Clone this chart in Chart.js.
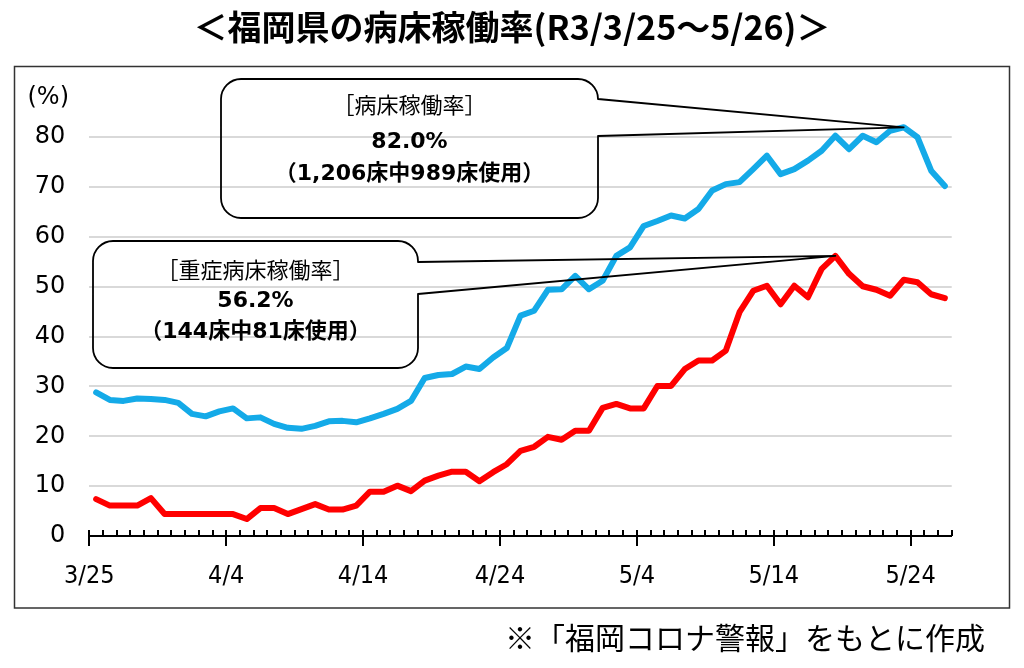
<!DOCTYPE html>
<html lang="ja">
<head>
<meta charset="utf-8">
<script src="https://cdn.jsdelivr.net/npm/chart.js@4.4.1/dist/chart.umd.min.js"></script>
<style>
  html, body { margin: 0; padding: 0; background: #fff; }
</style>
</head>
<body>
<canvas id="chart" width="1024" height="668"></canvas>
<script>
// 病床稼働率 3/25 - 5/26 (daily)
var dates = [
  '3/25','3/26','3/27','3/28','3/29','3/30','3/31',
  '4/1','4/2','4/3','4/4','4/5','4/6','4/7','4/8','4/9','4/10',
  '4/11','4/12','4/13','4/14','4/15','4/16','4/17','4/18','4/19','4/20',
  '4/21','4/22','4/23','4/24','4/25','4/26','4/27','4/28','4/29','4/30',
  '5/1','5/2','5/3','5/4','5/5','5/6','5/7','5/8','5/9','5/10',
  '5/11','5/12','5/13','5/14','5/15','5/16','5/17','5/18','5/19','5/20',
  '5/21','5/22','5/23','5/24','5/25','5/26'
];

// 病床稼働率 (blue)
var bedRate = [
  28.8, 27.3, 27.1, 27.6, 27.5, 27.3, 26.7, 24.5, 24.0, 25.0,
  25.6, 23.6, 23.8, 22.5, 21.7, 21.5, 22.1, 23.0, 23.1, 22.8,
  23.6, 24.5, 25.5, 27.1, 31.7, 32.3, 32.5, 34.0, 33.5, 35.8,
  37.7, 44.2, 45.2, 49.4, 49.5, 52.2, 49.5, 51.2, 56.2, 57.9,
  62.2, 63.2, 64.3, 63.7, 65.6, 69.3, 70.6, 71.0, 73.6, 76.3,
  72.6, 73.6, 75.3, 77.3, 80.3, 77.6, 80.3, 79.0, 81.3, 82.0,
  80.0, 73.3, 70.2
];

// 重症病床稼働率 (red)
var severeRate = [
  7.4, 6.1, 6.1, 6.1, 7.6, 4.4, 4.4, 4.4, 4.4, 4.4,
  4.4, 3.4, 5.6, 5.6, 4.4, 5.4, 6.4, 5.3, 5.3, 6.1,
  8.9, 8.9, 10.1, 9.0, 11.1, 12.1, 12.9, 12.9, 11.0, 12.8,
  14.4, 17.1, 17.9, 19.9, 19.3, 21.1, 21.1, 25.7, 26.5, 25.6,
  25.6, 30.1, 30.1, 33.5, 35.2, 35.2, 37.2, 44.9, 49.2, 50.2,
  46.5, 50.2, 47.9, 53.6, 56.2, 52.6, 50.1, 49.4, 48.2, 51.4,
  50.9, 48.5, 47.7
];

var xTickLabels = ['3/25', '4/4', '4/14', '4/24', '5/4', '5/14', '5/24'];
var yMax = 90;

var bedNote = '（1,206床中989床使用）';
var severeNote = '（144床中81床使用）';
var sourceNote = '※「福岡コロナ警報」をもとに作成';

function toPoints(arr) {
  return arr.map(function (v, i) { return { x: i, y: v }; });
}

var latinJp = '"DejaVu Sans", "Noto Sans CJK JP", sans-serif';
var jp = '"Noto Sans CJK JP", sans-serif';

function calloutPath(ctx, b, tip) {
  var r = b.r;
  ctx.beginPath();
  ctx.moveTo(b.x0 + r, b.y0);
  ctx.lineTo(b.x1 - r, b.y0);
  ctx.arcTo(b.x1, b.y0, b.x1, b.y0 + r, r);
  ctx.lineTo(b.x1, b.p0);
  ctx.lineTo(tip.x, tip.y);
  ctx.lineTo(b.x1, b.p1);
  ctx.lineTo(b.x1, b.y1 - r);
  ctx.arcTo(b.x1, b.y1, b.x1 - r, b.y1, r);
  ctx.lineTo(b.x0 + r, b.y1);
  ctx.arcTo(b.x0, b.y1, b.x0, b.y1 - r, r);
  ctx.lineTo(b.x0, b.y0 + r);
  ctx.arcTo(b.x0, b.y0, b.x0 + r, b.y0, r);
  ctx.closePath();
  ctx.stroke();
}

function peakOf(arr) {
  var idx = 0;
  arr.forEach(function (v, i) { if (v > arr[idx]) idx = i; });
  return idx;
}

var decor = {
  id: 'decor',
  beforeDraw: function (chart) {
    var ctx = chart.ctx;
    ctx.save();
    ctx.strokeStyle = '#333';
    ctx.lineWidth = 1.5;
    ctx.strokeRect(14.5, 66.5, 995, 541.5);
    ctx.restore();
  },
  afterDatasetsDraw: function (chart) {
    var ctx = chart.ctx;
    var xs = chart.scales.x, ys = chart.scales.y;
    var base = chart.chartArea.bottom;
    ctx.save();

    // tick marks: short ones every day, longer every 10 days
    ctx.strokeStyle = '#000';
    ctx.lineWidth = 2;
    xs.ticks.forEach(function (t, i) {
      var px = Math.round(xs.getPixelForValue(t.value));
      ctx.beginPath();
      ctx.moveTo(px, base - 6);
      ctx.lineTo(px, i % 10 === 0 ? base + 10 : base);
      ctx.stroke();
    });

    // unit label
    ctx.fillStyle = '#000';
    ctx.font = '24px "DejaVu Sans", sans-serif';
    ctx.textAlign = 'right';
    ctx.textBaseline = 'middle';
    ctx.fillText('(%)', 69, 98);

    // source note
    ctx.font = '30px ' + jp;
    ctx.fillText(sourceNote, 985, 638);

    // callouts
    var bi = peakOf(bedRate), si = peakOf(severeRate);
    var bedTip = { x: xs.getPixelForValue(bi), y: ys.getPixelForValue(bedRate[bi]) };
    var sevTip = { x: xs.getPixelForValue(si), y: ys.getPixelForValue(severeRate[si]) };

    ctx.strokeStyle = '#000';
    ctx.lineWidth = 1.8;
    ctx.lineJoin = 'round';
    calloutPath(ctx, { x0: 221, y0: 79, x1: 598, y1: 218, r: 20, p0: 99, p1: 136 }, bedTip);
    calloutPath(ctx, { x0: 93, y0: 241, x1: 418, y1: 368, r: 20, p0: 262, p1: 294 }, sevTip);

    ctx.textAlign = 'center';
    ctx.font = '22px ' + jp;
    ctx.fillText('［病床稼働率］', 409.5, 105);
    ctx.fillText('［重症病床稼働率］', 255.5, 270);
    ctx.font = 'bold 22px ' + latinJp;
    ctx.fillText(bedRate[bi].toFixed(1) + '%', 409.5, 142);
    ctx.fillText(bedNote, 409.5, 174);
    ctx.fillText(severeRate[si].toFixed(1) + '%', 255.5, 301);
    ctx.fillText(severeNote, 255.5, 332);
    ctx.restore();
  }
};

new Chart(document.getElementById('chart'), {
  type: 'line',
  data: {
    datasets: [{
      label: '病床稼働率',
      data: toPoints(bedRate),
      borderColor: 'rgb(20, 170, 232)',
      borderWidth: 6,
      borderCapStyle: 'round',
      borderJoinStyle: 'round',
      pointRadius: 0,
      tension: 0
    }, {
      label: '重症病床稼働率',
      data: toPoints(severeRate),
      borderColor: 'rgb(255, 0, 0)',
      borderWidth: 6,
      borderCapStyle: 'round',
      borderJoinStyle: 'round',
      pointRadius: 0,
      tension: 0
    }]
  },
  options: {
    responsive: false,
    animation: false,
    layout: { padding: { left: 0, right: 0, top: 0, bottom: 56.8 } },
    plugins: {
      legend: { display: false },
      tooltip: { enabled: false },
      title: {
        display: true,
        text: '＜福岡県の病床稼働率(R3/3/25～5/26)＞',
        color: '#000',
        font: { family: jp, size: 34, weight: 'bold' },
        padding: { top: 7, bottom: 39.6 }
      }
    },
    scales: {
      x: {
        type: 'linear',
        bounds: 'data',
        min: -0.5,
        max: dates.length - 0.5,
        afterBuildTicks: function (scale) {
          var t = [];
          for (var k = 0; k <= dates.length; k++) t.push({ value: k - 0.5 });
          scale.ticks = t;
        },
        afterFit: function (scale) { scale.height = 75.2; },
        grid: { display: true, drawOnChartArea: false, drawTicks: false },
        border: { display: true, color: '#000', width: 2 },
        ticks: {
          autoSkip: false,
          maxRotation: 0,
          minRotation: 0,
          padding: 25,
          color: '#000',
          font: { family: '"DejaVu Sans Condensed", "DejaVu Sans", sans-serif', size: 25 },
          callback: function (value, index) {
            return index % 10 === 0 ? xTickLabels[index / 10] : '';
          }
        }
      },
      y: {
        min: 0,
        max: yMax,
        afterFit: function (scale) { scale.width = 89.3; },
        grid: {
          drawTicks: false,
          lineWidth: 2,
          color: function (c) {
            return (c.tick && (c.tick.value === 0 || c.tick.value === yMax)) ? 'rgba(0,0,0,0)' : '#d9d9d9';
          }
        },
        border: { display: false },
        ticks: {
          stepSize: 10,
          padding: 24,
          color: '#000',
          font: { family: '"DejaVu Sans", sans-serif', size: 24 },
          callback: function (v) { return v === yMax ? '' : v; }
        }
      },
      yRight: {
        position: 'right',
        type: 'linear',
        display: true,
        grid: { display: false },
        border: { display: false },
        ticks: { display: false },
        afterFit: function (scale) { scale.width = 72.3; }
      }
    }
  },
  plugins: [decor]
});
</script>
</body>
</html>
